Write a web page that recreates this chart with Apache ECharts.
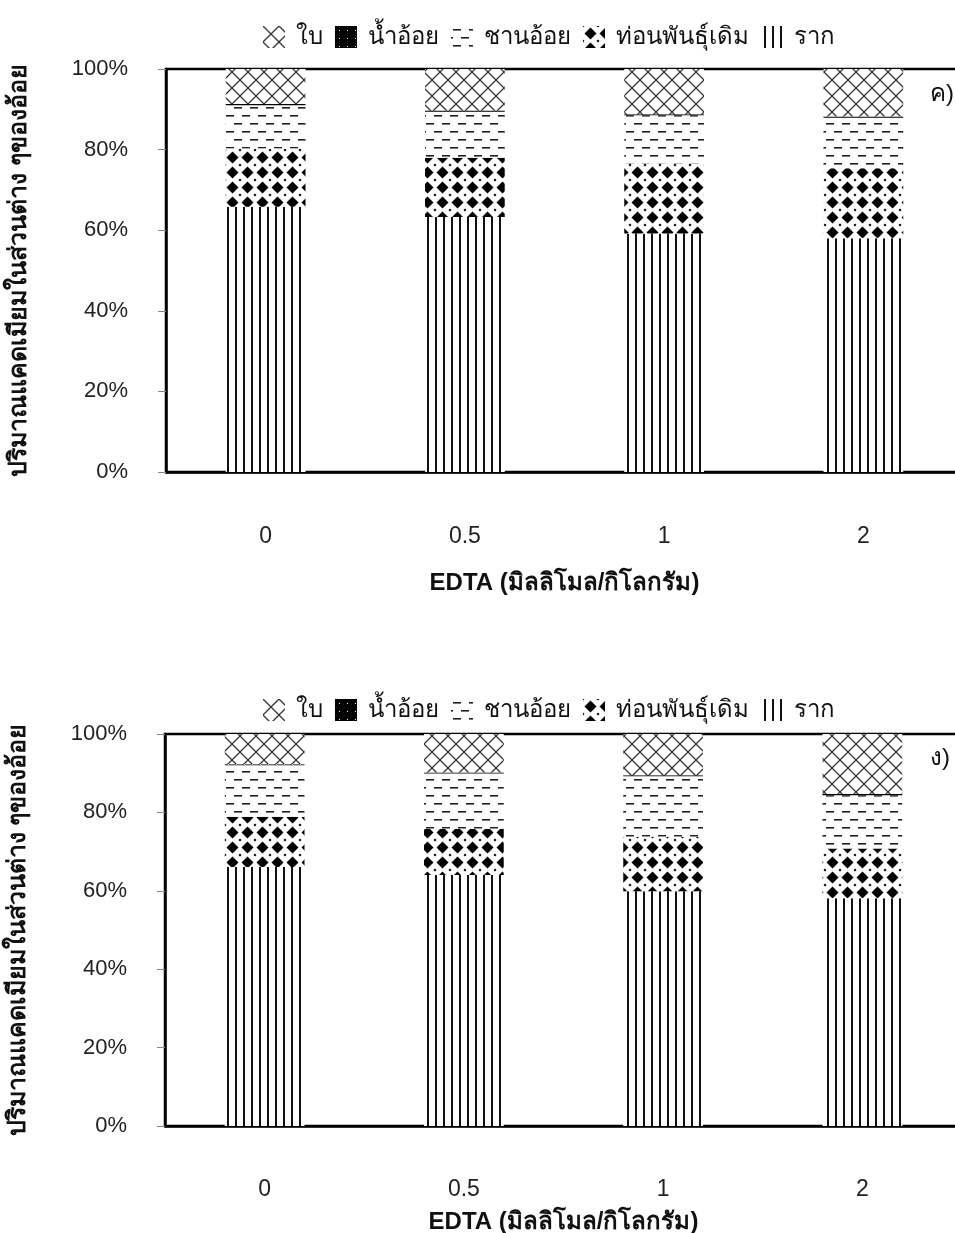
<!DOCTYPE html>
<html>
<head>
<meta charset="utf-8">
<script src="https://cdn.jsdelivr.net/npm/echarts@6/dist/echarts.min.js"></script>
<style>
  html, body { margin: 0; padding: 0; background: #fff; }
  #chart { width: 955px; height: 1233px; }
</style>
</head>
<body>
<div id="chart"></div>
<script>
// Categories: EDTA dose (mmol/kg)
const categories = ['0', '0.5', '1', '2'];
const seriesNames = ['ใบ', 'น้ำอ้อย', 'ชานอ้อย', 'ท่อนพันธุ์เดิม', 'ราก'];

// Panel ค) — share of cadmium (%) in each plant part
const rootC   = [65.8, 63.3, 59.2, 58.0];
const cuttingC = [14.5, 14.7, 17.4, 17.4];
const bagasseC = [10.7, 11.4, 11.9, 12.5];
const juiceC  = [0.3, 0.3, 0.3, 0.3];
const leafC   = [8.7, 10.3, 11.2, 11.8];

// Panel ง) — share of cadmium (%) in each plant part
const rootD   = [66.1, 64.0, 59.9, 58.1];
const cuttingD = [12.8, 11.8, 13.9, 12.7];
const bagasseD = [13.1, 14.1, 15.4, 13.6];
const juiceD  = [0.3, 0.3, 0.3, 0.3];
const leafD   = [7.7, 9.8, 10.5, 15.3];

// ---- fill patterns ----
function tile(w, h, draw) {
  const c = document.createElement('canvas');
  c.width = w; c.height = h;
  const g = c.getContext('2d');
  draw(g, w, h);
  return { image: c, repeat: 'repeat' };
}
const patLeaf = tile(16, 16, (g, w, h) => {
  g.fillStyle = '#fff'; g.fillRect(0, 0, w, h);
  g.strokeStyle = '#333'; g.lineWidth = 1.3;
  g.beginPath();
  g.moveTo(-1, -1); g.lineTo(w + 1, h + 1);
  g.moveTo(-1, h + 1); g.lineTo(w + 1, -1);
  g.stroke();
});
const patJuice = tile(8, 8, (g, w, h) => {
  g.fillStyle = '#000'; g.fillRect(0, 0, w, h);
  g.fillStyle = '#fff'; g.fillRect(4, 4, 1, 1);
});
const patBagasse = tile(16, 16, (g, w, h) => {
  g.fillStyle = '#fff'; g.fillRect(0, 0, w, h);
  g.fillStyle = '#222';
  g.fillRect(2, 3, 8, 1.6);
  g.fillRect(10, 11, 6, 1.6);
  g.fillRect(0, 11, 2, 1.6);
});
const patCutting = tile(15, 15, (g, w, h) => {
  g.fillStyle = '#fff'; g.fillRect(0, 0, w, h);
  g.fillStyle = '#000';
  const cx = 7.5, cy = 7.5, r = 6;
  g.beginPath();
  g.moveTo(cx, cy - r); g.lineTo(cx + r, cy); g.lineTo(cx, cy + r); g.lineTo(cx - r, cy);
  g.closePath(); g.fill();
  [[0, 0], [w, 0], [0, h], [w, h]].forEach(([x, y]) => {
    g.beginPath();
    g.moveTo(x, y - 1.5); g.lineTo(x + 1.5, y); g.lineTo(x, y + 1.5); g.lineTo(x - 1.5, y);
    g.closePath(); g.fill();
  });
});
const patRoot = tile(8, 8, (g, w, h) => {
  g.fillStyle = '#fff'; g.fillRect(0, 0, w, h);
  g.fillStyle = '#111'; g.fillRect(3, 0, 2, h);
});
const patterns = [patLeaf, patJuice, patBagasse, patCutting, patRoot];

const font = '"Liberation Sans", Arial, "Noto Sans", "DejaVu Sans", sans-serif';

function makeAxes(gridIndex, nameGapX, labelMargin) {
  const x = {
    type: 'category', gridIndex, data: categories,
    axisLine: { lineStyle: { color: '#000', width: 2.5 } },
    axisTick: { length: 16, lineStyle: { color: '#888', width: 1 } },
    axisLabel: { margin: labelMargin, color: '#222', fontSize: 23, fontFamily: font },
    name: 'EDTA (มิลลิโมล/กิโลกรัม)', nameLocation: 'middle', nameGap: nameGapX,
    nameTextStyle: { fontSize: 24, fontWeight: 'bold', color: '#111', fontFamily: font }
  };
  const y = {
    type: 'value', gridIndex, min: 0, max: 100, interval: 20,
    axisLine: { show: true, lineStyle: { color: '#000', width: 2.5 } },
    axisTick: { show: true, length: 8, lineStyle: { color: '#888' } },
    splitLine: { show: false },
    axisLabel: { margin: 38, color: '#222', fontSize: 22, fontFamily: font, formatter: '{value}%' },
    name: 'ปริมาณแคดเมียมในส่วนต่าง ๆของอ้อย', nameLocation: 'middle', nameGap: 134, nameRotate: 90,
    nameTextStyle: { fontSize: 25, fontWeight: 'bold', color: '#111', fontFamily: font }
  };
  return { x, y };
}

const a1 = makeAxes(0, 99, 53);
const a2 = makeAxes(1, 84, 52);

function panelSeries(idx, data) {
  // stacked from the bottom: root, cutting, bagasse, juice, leaf
  const order = [4, 3, 2, 1, 0];
  return order.map(k => ({
    name: seriesNames[k], type: 'bar', stack: 'p' + idx,
    xAxisIndex: idx, yAxisIndex: idx,
    barWidth: '40%',
    itemStyle: { color: patterns[k] },
    data: data[k]
  }));
}

const legendBase = {
  data: seriesNames, icon: 'rect', itemWidth: 22, itemHeight: 22, itemGap: 12,
  textStyle: { fontSize: 24, color: '#111', fontFamily: font, padding: [0, 0, 0, 6] },
  selectedMode: false, left: 258
};

// the plot frame runs slightly past the right edge of the page
const gridBase = {
  width: 797, show: true, borderColor: '#000', borderWidth: 2.5,
  outerBoundsMode: 'none', containLabel: false
};

const option = {
  animation: false,
  backgroundColor: '#fff',
  legend: [
    Object.assign({}, legendBase, { top: 20 }),
    Object.assign({}, legendBase, { top: 693 })
  ],
  grid: [
    Object.assign({}, gridBase, { left: 166, top: 69, height: 403 }),
    Object.assign({}, gridBase, { left: 165, top: 734, height: 392 })
  ],
  xAxis: [a1.x, a2.x],
  yAxis: [a1.y, a2.y],
  series: [
    ...panelSeries(0, [leafC, juiceC, bagasseC, cuttingC, rootC]),
    ...panelSeries(1, [leafD, juiceD, bagasseD, cuttingD, rootD])
  ],
  graphic: [
    { type: 'text', left: 930, top: 82, style: { text: 'ค)', fontSize: 24, fill: '#111', fontFamily: font } },
    { type: 'text', left: 930, top: 746, style: { text: 'ง)', fontSize: 24, fill: '#111', fontFamily: font } }
  ]
};

const chart = echarts.init(document.getElementById('chart'), null, { renderer: 'canvas' });
chart.setOption(option);
</script>
</body>
</html>
